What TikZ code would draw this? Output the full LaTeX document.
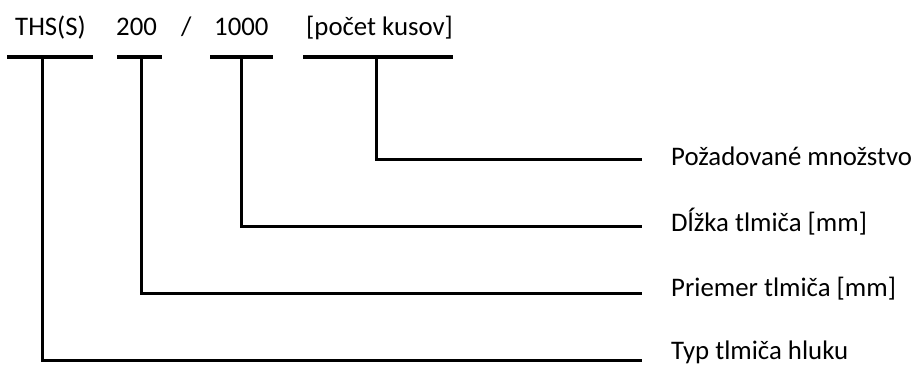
\documentclass[tikz,border=0pt]{standalone}
\usepackage{fontspec}
\setmainfont{Carlito}
\begin{document}
\begin{tikzpicture}[x=1pt,y=-1pt,
  bar/.style={line width=4pt},
  conn/.style={line width=3pt, line join=miter},
  lbl/.style={font=\fontsize{26.8}{32}\selectfont, inner sep=0pt, anchor=base west}]
\useasboundingbox (0,0) rectangle (917,364);
% top texts
\node[lbl] (t1) at (15,35) {THS(S)};
\node[lbl] (t2) at (116,35) {200};
\node[lbl] (t3) at (181,35) {/};
\node[lbl] (t4) at (214,35) {1000};
\node[lbl] (t5) at (306,35) {[počet kusov]};
% bars
\coordinate (b1l) at (7,57);   \coordinate (b1r) at (93,57);
\coordinate (b2l) at (117,57); \coordinate (b2r) at (162,57);
\coordinate (b3l) at (210,57); \coordinate (b3r) at (273,57);
\coordinate (b4l) at (303,57); \coordinate (b4r) at (453,57);
\draw[bar] (b1l) -- (b1r);
\draw[bar] (b2l) -- (b2r);
\draw[bar] (b3l) -- (b3r);
\draw[bar] (b4l) -- (b4r);
% junctions
\coordinate (j1) at (42,57);
\coordinate (j2) at (141,57);
\coordinate (j3) at (241,57);
\coordinate (j4) at (376,57);
% right labels
\node[lbl] (l4) at (671,165) {Požadované množstvo};
\node[lbl] (l3) at (671,231) {Dĺžka tlmiča [mm]};
\node[lbl] (l2) at (671,296) {Priemer tlmiča [mm]};
\node[lbl] (l1) at (671,359) {Typ tlmiča hluku};
\coordinate (e4) at (642,159);
\coordinate (e3) at (642,226);
\coordinate (e2) at (642,293);
\coordinate (e1) at (642,360);
\draw[conn] (j4) |- (e4);
\draw[conn] (j3) |- (e3);
\draw[conn] (j2) |- (e2);
\draw[conn] (j1) |- (e1);
\end{tikzpicture}
\end{document}
